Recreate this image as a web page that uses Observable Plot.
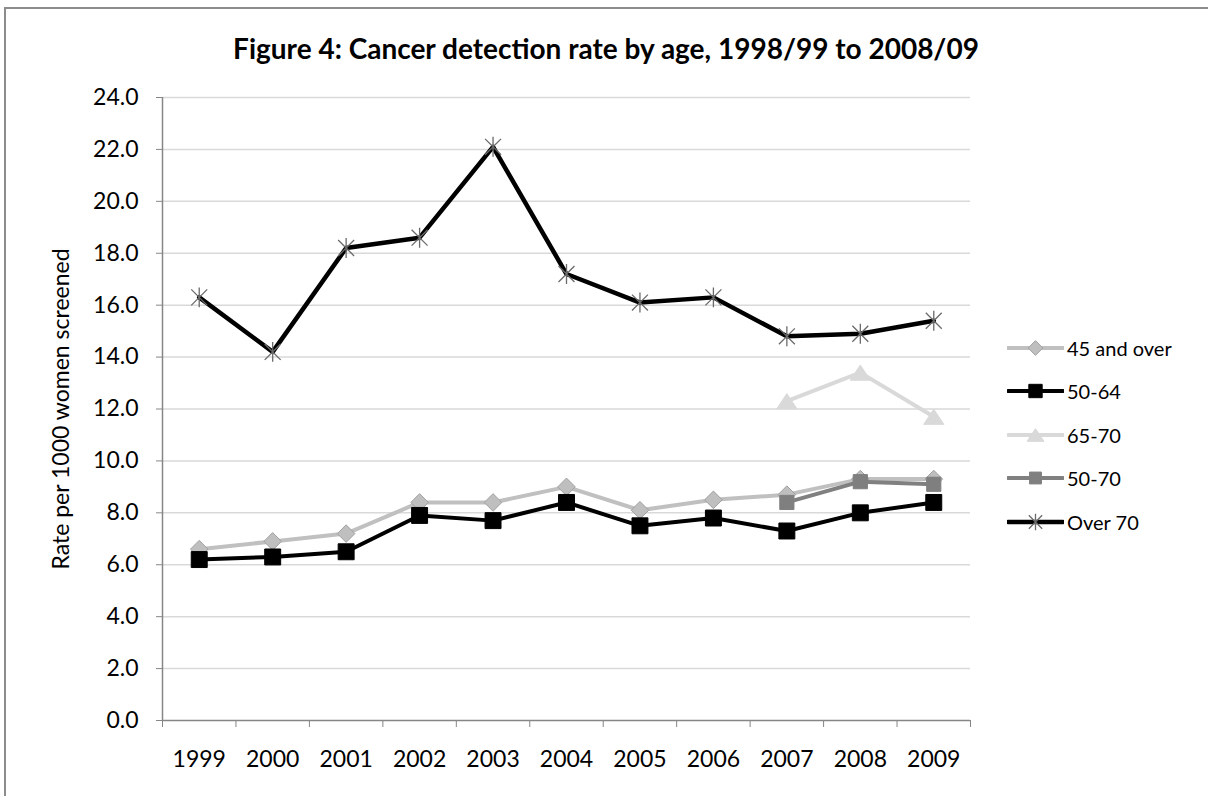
<!DOCTYPE html>
<html><head><meta charset="utf-8">
<script src="https://cdn.jsdelivr.net/npm/d3@7"></script>
<script src="https://cdn.jsdelivr.net/npm/@observablehq/plot@0.6"></script>
<style>
html,body{margin:0;padding:0;background:#fff;overflow:hidden;}
#page{position:relative;width:1208px;height:796px;font-family:Lato,"Open Sans",sans-serif;color:#000;}
#frame{position:absolute;left:4px;top:7px;width:1400px;height:1000px;border:2px solid #8c8c8c;}
#title{position:absolute;left:0;top:33px;width:1212px;line-height:30px;text-align:center;font-weight:bold;font-size:28px;}
#chart{position:absolute;left:0;top:80px;}
#legend{position:absolute;left:1007px;top:326px;}
.item{display:flex;align-items:center;height:43.5px;font-size:20px;}
.item svg{margin-right:3px;}
</style></head>
<body><div id="page"><div id="frame"></div>
<div id="title">Figure 4: Cancer detection rate by age, 1998/99 to 2008/09</div>
<div id="chart"></div><div id="legend"></div></div>
<script>
const years = [1999,2000,2001,2002,2003,2004,2005,2006,2007,2008,2009];
const seriesNames = ["45 and over","50-64","65-70","50-70","Over 70"];
const over45   = [6.6,6.9,7.2,8.4,8.4,9.0,8.1,8.5,8.7,9.3,9.3];
const age5064  = [6.2,6.3,6.5,7.9,7.7,8.4,7.5,7.8,7.3,8.0,8.4];
const lateYears = [2007,2008,2009];
const age6570  = [12.3,13.4,11.7];
const age5070  = [8.4,9.2,9.1];
const over70   = [16.3,14.2,18.2,18.6,22.1,17.2,16.1,16.3,14.8,14.9,15.4];
const yTicks = [0,2,4,6,8,10,12,14,16,18,20,22,24];
const yLabel = "Rate per 1000 women screened";

const seriesData = [
  {name: seriesNames[0], x: years, y: over45},
  {name: seriesNames[1], x: years, y: age5064},
  {name: seriesNames[2], x: lateYears, y: age6570},
  {name: seriesNames[3], x: lateYears, y: age5070},
  {name: seriesNames[4], x: years, y: over70}
].map(s => ({...s, rows: s.x.map((x, i) => ({series: s.name, year: x, value: s.y[i]}))}));

// symbol shapes (styles)
const sym = {
  square: {draw(c, s) { const h = Math.sqrt(s) / 2; c.rect(-h, -h, 2 * h, 2 * h); }},
  diamond: {draw(c, s) { const h = Math.sqrt(s) * 0.62; c.moveTo(0, -h); c.lineTo(h, 0); c.lineTo(0, h); c.lineTo(-h, 0); c.closePath(); }},
  triangle: {draw(c, s) { const w = Math.sqrt(s) * 0.6, h = Math.sqrt(s) * 0.45; c.moveTo(0, -h); c.lineTo(w, h); c.lineTo(-w, h); c.closePath(); }},
  star: {draw(c, s) { const h = Math.sqrt(s) / 2; c.moveTo(-h, -h); c.lineTo(h, h); c.moveTo(h, -h); c.lineTo(-h, h); c.moveTo(0, -h * 1.25); c.lineTo(0, h * 1.25); }}
};
const styles = {
  "45 and over": {line: "#c0c0c0", lw: 4, symbol: sym.diamond, r: 8, fill: "#bfbfbf", stroke: "#a0a0a0", sw: 1},
  "50-64": {line: "#000000", lw: 4, symbol: sym.square, r: 9, fill: "#000000", stroke: "#000000", sw: 1},
  "65-70": {line: "#d9d9d9", lw: 4, symbol: sym.triangle, r: 9.5, fill: "#d9d9d9", stroke: "#d9d9d9", sw: 1},
  "50-70": {line: "#808080", lw: 4, symbol: sym.square, r: 8, fill: "#7f7f7f", stroke: "#7f7f7f", sw: 1},
  "Over 70": {line: "#000000", lw: 4.5, symbol: sym.star, r: 9, fill: "none", stroke: "#6a6a6a", sw: 1.3}
};

const boundaries = years.map(y => y - 0.5).concat([years[years.length - 1] + 0.5]);
const marks = [
  Plot.gridY(yTicks.filter(d => d > 0), {stroke: "#d9d9d9", strokeOpacity: 1, strokeWidth: 1.5}),
  Plot.axisY(yTicks, {tickFormat: d => d.toFixed(1), tickSize: 6, tickPadding: 18, stroke: "#868686", fontSize: 23,
    label: yLabel, labelAnchor: "center", labelOffset: 110, labelArrow: "none"}),
  Plot.axisX(years, {tickSize: 0, tickPadding: 30, tickFormat: d => String(d), fontSize: 23, label: null}),
  Plot.axisX(boundaries, {tickSize: 7, tickFormat: () => "", stroke: "#868686", label: null}),
  Plot.ruleY([0], {stroke: "#868686", strokeWidth: 1.5}),
  Plot.ruleX([boundaries[0]], {y1: 0, y2: yTicks[yTicks.length - 1], stroke: "#868686", strokeWidth: 1.5})
];
for (const s of seriesData) {
  const st = styles[s.name];
  marks.push(Plot.line(s.rows, {x: "year", y: "value", stroke: st.line, strokeWidth: st.lw, strokeLinejoin: "round", strokeLinecap: "round"}));
  marks.push(Plot.dot(s.rows, {x: "year", y: "value", symbol: st.symbol, r: st.r, fill: st.fill, stroke: st.stroke, strokeWidth: st.sw}));
}

const chart = Plot.plot({
  width: 1208, height: 716,
  marginLeft: 162, marginRight: 238, marginTop: 17, marginBottom: 76,
  style: {fontFamily: "Lato, 'Open Sans', sans-serif", fontSize: "23px", color: "#000", background: "transparent", overflow: "visible"},
  x: {type: "linear", domain: [boundaries[0], boundaries[boundaries.length - 1]], axis: null},
  y: {domain: [yTicks[0], yTicks[yTicks.length - 1]], axis: null},
  marks
});
document.getElementById("chart").appendChild(chart);

// legend
const legend = document.getElementById("legend");
for (const name of seriesNames) {
  const st = styles[name];
  const item = document.createElement("div");
  item.className = "item";
  const svg = d3.create("svg").attr("width", 57).attr("height", 24);
  svg.append("line").attr("x1", 1).attr("x2", 56).attr("y1", 12).attr("y2", 12)
    .attr("stroke", st.line).attr("stroke-width", st.lw).attr("stroke-linecap", "round");
  const p = d3.path();
  st.symbol.draw(p, st.r * st.r * Math.PI * 0.7);
  svg.append("path").attr("d", p.toString()).attr("transform", "translate(28.5,12)")
    .attr("fill", st.fill).attr("stroke", st.stroke).attr("stroke-width", st.sw);
  item.appendChild(svg.node());
  const t = document.createElement("span");
  t.textContent = name;
  item.appendChild(t);
  legend.appendChild(item);
}
</script></body></html>
